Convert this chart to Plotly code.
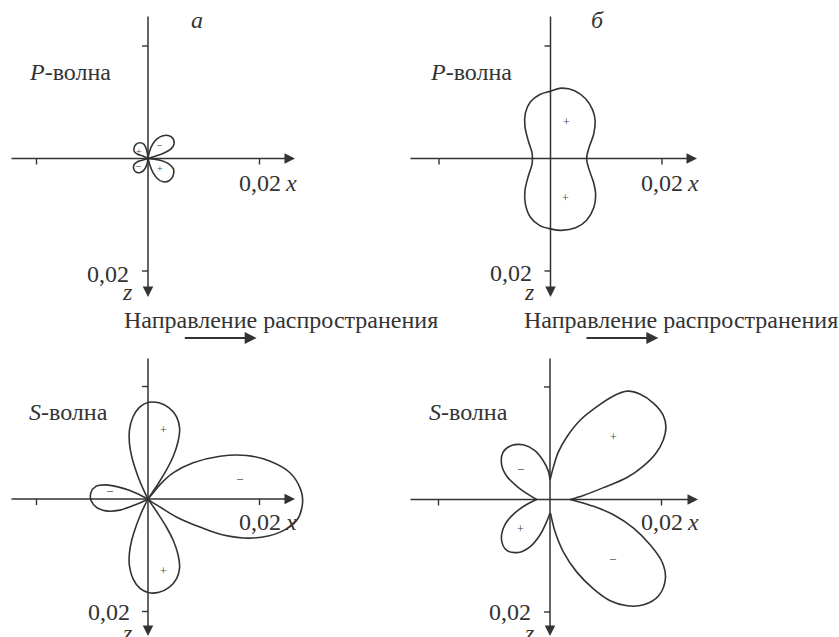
import numpy as np
import plotly.graph_objects as go

W, H = 839, 637
MILLI = 1e-3          # all outline coordinates below are in units of 1e-3
TICK = 0.02
TICK_LABEL = "0,02"

FONT = "'Liberation Serif', 'Times New Roman', serif"
INK = "#333333"
SIGN_INK = "#444444"

# ---------------- (а) P-wave: four small lobes ----------------
ap_ur_x = [0, 0.27, 0.81, 1.62, 2.70, 3.78, 4.50, 4.68, 4.14, 2.88, 1.44, 0.01]
ap_ur_z = [0, -1.26, -2.52, -3.51, -4.05, -4.05, -3.51, -2.61, -1.71, -0.99, -0.45, 0]
ap_lr_x = [0, 0.36, 0.90, 1.71, 2.70, 3.78, 4.50, 4.59, 3.78, 2.34, 0.01]
ap_lr_z = [0, 1.26, 2.52, 3.60, 4.14, 3.96, 3.06, 1.89, 0.99, 0.36, 0]
ap_ul_x = [0, -0.90, -1.80, -2.43, -2.52, -2.16, -1.44, -0.72, -0.27, 0.01]
ap_ul_z = [0, -0.45, -0.72, -1.17, -1.80, -2.52, -2.79, -2.52, -1.62, 0]
ap_ll_x = [0, -0.90, -1.80, -2.43, -2.61, -2.25, -1.53, -0.81, -0.27, 0.01]
ap_ll_z = [0, 0.27, 0.54, 0.99, 1.62, 2.34, 2.52, 2.16, 1.26, 0]
ap_sign_x = [1.98, 2.16, -1.57, -1.67]
ap_sign_z = [-2.52, 1.80, -1.31, 1.26]
ap_sign_t = ["–", "+", "+", "–"]

# ---------------- (б) P-wave: one closed outline ----------------
bp_x = [0, 1.98, 4.32, 6.30, 7.56, 8.01, 7.74, 6.93, 6.48, 6.93, 7.74, 8.10, 7.74,
        6.48, 4.50, 1.98, 0, -1.98, -3.60, -4.50, -4.59, -3.96, -3.33, -3.24, -3.33,
        -3.96, -4.59, -4.50, -3.60, -1.98, 0]
bp_z = [-11.97, -12.51, -12.06, -10.62, -8.64, -6.66, -4.32, -1.98, 0, 1.98, 4.32,
        6.48, 8.82, 10.98, 12.33, 12.78, 12.51, 11.88, 10.44, 8.10, 5.76, 3.06, 1.08,
        0, -1.08, -3.06, -5.76, -8.10, -10.08, -11.34, -11.97]
bp_sign_x = [2.83, 2.70]
bp_sign_z = [-6.43, 7.07]
bp_sign_t = ["+", "+"]

# ---------------- (а) S-wave: four lobes through the origin ----------------
as_top_x = [0, -0.63, -1.35, -2.16, -2.88, -3.33, -3.33, -2.70, -1.44, 0.18, 1.98,
            3.78, 5.13, 5.67, 5.40, 4.59, 3.24, 1.80, 0.72, 0.01]
as_top_z = [0, -1.26, -2.88, -5.04, -7.38, -9.90, -12.24, -14.58, -16.38, -17.19,
            -17.10, -16.20, -14.58, -12.60, -10.26, -7.74, -5.04, -2.70, -1.08, 0]
as_bot_x = [0, -0.63, -1.35, -2.16, -2.88, -3.33, -3.33, -2.70, -1.44, 0.18, 1.98,
            3.78, 5.13, 5.67, 5.40, 4.59, 3.24, 1.80, 0.72, 0.01]
as_bot_z = [0, 1.22, 2.79, 4.89, 7.16, 9.60, 11.87, 14.14, 15.89, 16.67, 16.59,
            15.71, 14.14, 12.22, 9.95, 7.51, 4.89, 2.62, 1.05, 0]
as_left_x = [0, -1.44, -3.24, -5.40, -7.56, -9.36, -10.26, -10.17, -9.18, -7.20,
             -5.04, -2.88, -1.08, 0.01]
as_left_z = [0, -0.72, -1.53, -2.16, -2.52, -2.25, -1.08, 0.36, 1.53, 2.16, 1.98,
             1.26, 0.54, 0]
as_right_x = [0, 0.90, 2.11, 4.50, 8.10, 12.91, 17.69, 21.91, 25.51, 27.41, 27.72,
              26.69, 23.71, 18.90, 13.50, 9.31, 5.09, 2.11, 0.72, 0.01]
as_right_z = [0, -1.08, -2.52, -4.63, -6.43, -7.61, -7.74, -6.71, -4.63, -1.62, 0.72,
              3.78, 5.89, 6.93, 6.39, 4.99, 3.19, 1.39, 0.54, 0]
as_sign_x = [2.83, 2.70, -6.84, 16.56]
as_sign_z = [-12.24, 12.78, -1.62, -3.73]
as_sign_t = ["+", "+", "–", "–"]

# ---------------- (б) S-wave: four lobes meeting on the axes ----------------
bs_ur_x = [0, 0.59, 1.49, 3.01, 5.40, 8.41, 11.39, 13.86, 16.20, 18.59, 20.29, 20.79,
           20.29, 18.90, 16.79, 13.81, 9.59, 5.99, 3.60]
bs_ur_z = [-3.42, -5.71, -8.41, -11.11, -14.09, -16.51, -18.41, -19.26, -18.72,
           -17.10, -14.99, -12.91, -10.49, -8.10, -5.99, -3.91, -2.11, -0.72, 0]
bs_lr_x = [0.09, 0.90, 2.39, 4.81, 7.79, 10.80, 13.86, 16.79, 19.49, 20.70, 20.11,
           18.00, 14.99, 11.39, 7.79, 4.81, 3.60]
bs_lr_z = [2.43, 5.71, 9.31, 12.91, 15.89, 18.00, 18.90, 18.72, 17.10, 14.09, 11.11,
           8.10, 5.09, 2.70, 1.21, 0.31, 0]
bs_ul_x = [0, -0.31, -1.21, -2.70, -4.81, -6.89, -8.41, -8.69, -7.79, -5.99, -3.91, -2.39]
bs_ul_z = [-3.60, -5.09, -6.89, -8.69, -9.72, -9.59, -8.41, -6.30, -4.19, -2.39, -0.90, 0]
bs_ll_x = [0, -0.59, -1.80, -3.60, -5.71, -7.79, -8.69, -8.10, -6.30, -4.19, -2.39]
bs_ll_z = [2.39, 3.91, 6.30, 8.41, 9.41, 9.00, 7.20, 4.50, 2.39, 0.90, 0]
bs_sign_x = [11.34, 11.29, -5.17, -5.35]
bs_sign_z = [-11.16, 10.35, -5.58, 5.22]
bs_sign_t = ["+", "–", "–", "+"]

# ---------------- panel geometry (pixels) ----------------
SX = 111.5 / TICK   # px per unit along x
SZ = 112.5 / TICK   # px per unit along z (downwards)

PANELS = [
    dict(ox=148.0, oy=158.5, box=(0, 0, 420, 318), h=(10, 295), v=(15, 297),
         xl_dy=24.5, zl_dy=2.5, zl_dx=17.0,
         curves=[(ap_ur_x, ap_ur_z), (ap_lr_x, ap_lr_z), (ap_ul_x, ap_ul_z), (ap_ll_x, ap_ll_z)],
         signs=(ap_sign_x, ap_sign_z, ap_sign_t), sign_size=10),
    dict(ox=550.5, oy=158.5, box=(419, 0, 839, 318), h=(409, 697), v=(15, 297),
         xl_dy=24.5, zl_dy=2.0, zl_dx=17.0,
         curves=[(bp_x, bp_z)],
         signs=(bp_sign_x, bp_sign_z, bp_sign_t), sign_size=12),
    dict(ox=148.0, oy=499.0, box=(0, 318, 420, 637), h=(10, 295), v=(357, 636),
         xl_dy=22.7, zl_dy=0.0, zl_dx=16.0,
         curves=[(as_top_x, as_top_z), (as_bot_x, as_bot_z), (as_left_x, as_left_z),
                 (as_right_x, as_right_z)],
         signs=(as_sign_x, as_sign_z, as_sign_t), sign_size=12),
    dict(ox=550.0, oy=499.5, box=(419, 318, 839, 637), h=(409, 698), v=(357, 636),
         xl_dy=22.2, zl_dy=0.0, zl_dx=16.7,
         curves=[(bs_ur_x, bs_ur_z), (bs_lr_x, bs_lr_z), (bs_ul_x, bs_ul_z), (bs_ll_x, bs_ll_z)],
         signs=(bs_sign_x, bs_sign_z, bs_sign_t), sign_size=12),
]

fig = go.Figure()
axes = {}
annotations = []
shapes = []
TEXT_SIZE = 24
LABEL_FONT = dict(family=FONT, size=TEXT_SIZE, color=INK)

for i, p in enumerate(PANELS, start=1):
    s = "" if i == 1 else str(i)
    xr, yr = "x" + s, "y" + s
    bx0, by0, bx1, by1 = p["box"]
    ox, oy = p["ox"], p["oy"]
    axes["xaxis" + s] = dict(domain=[bx0 / W, bx1 / W],
                             range=[(bx0 - ox) / SX, (bx1 - ox) / SX],
                             visible=False, fixedrange=True, anchor=yr)
    axes["yaxis" + s] = dict(domain=[1 - by1 / H, 1 - by0 / H],
                             range=[(by1 - oy) / SZ, (by0 - oy) / SZ],
                             visible=False, fixedrange=True, anchor=xr)

    # pattern outlines
    for cx, cz in p["curves"]:
        fig.add_trace(go.Scatter(
            x=np.array(cx) * MILLI, y=np.array(cz) * MILLI, mode="lines",
            line=dict(color=INK, width=1.6, shape="spline", smoothing=1.0),
            xaxis=xr, yaxis=yr, hoverinfo="skip", showlegend=False))

    # polarity marks
    sx_, sz_, st_ = p["signs"]
    for vx, vz, t in zip(sx_, sz_, st_):
        annotations.append(dict(x=vx * MILLI, y=vz * MILLI, xref=xr, yref=yr, text=t,
                                showarrow=False, xanchor="center", yanchor="middle",
                                font=dict(family=FONT, size=p["sign_size"], color=SIGN_INK)))

    # x axis and z axis with arrow heads
    h0, h1 = p["h"]
    v0, v1 = p["v"]
    annotations.append(dict(x=(h1 - ox) / SX, y=0, ax=(h0 - ox) / SX, ay=0,
                            xref=xr, yref=yr, axref=xr, ayref=yr, text="",
                            showarrow=True, arrowhead=2, arrowsize=1.4, arrowwidth=1.5,
                            arrowcolor=INK, standoff=0))
    annotations.append(dict(x=0, y=(v1 - oy) / SZ, ax=0, ay=(v0 - oy) / SZ,
                            xref=xr, yref=yr, axref=xr, ayref=yr, text="",
                            showarrow=True, arrowhead=2, arrowsize=1.4, arrowwidth=1.5,
                            arrowcolor=INK, standoff=0))

    # tick marks at ±0.02
    for t in (-TICK, TICK):
        shapes.append(dict(type="line", xref=xr, yref=yr, x0=t, x1=t, y0=0, y1=6 / SZ,
                           line=dict(color=INK, width=1.4)))
        shapes.append(dict(type="line", xref=xr, yref=yr, x0=0, x1=-6 / SX, y0=t, y1=t,
                           line=dict(color=INK, width=1.4)))

    # tick labels and axis names
    annotations.append(dict(x=TICK, y=0, xref=xr, yref=yr, text=TICK_LABEL, showarrow=False,
                            xanchor="center", yanchor="middle", yshift=-p["xl_dy"],
                            font=LABEL_FONT))
    annotations.append(dict(x=TICK, y=0, xref=xr, yref=yr, text="<i>x</i>", showarrow=False,
                            xanchor="center", yanchor="middle", xshift=31,
                            yshift=-p["xl_dy"], font=LABEL_FONT))
    annotations.append(dict(x=0, y=TICK, xref=xr, yref=yr, text=TICK_LABEL, showarrow=False,
                            xanchor="right", yanchor="middle", xshift=-p["zl_dx"],
                            yshift=-p["zl_dy"], font=LABEL_FONT))
    annotations.append(dict(x=0, y=TICK, xref=xr, yref=yr, text="<i>z</i>", showarrow=False,
                            xanchor="center", yanchor="middle", xshift=-21, yshift=-21,
                            font=LABEL_FONT))


def paper_text(px, py, text, anchor="left", size=TEXT_SIZE):
    annotations.append(dict(x=px / W, y=1 - py / H, xref="paper", yref="paper", text=text,
                            showarrow=False, xanchor=anchor, yanchor="middle",
                            font=dict(family=FONT, size=size, color=INK)))


paper_text(196.7, 19.5, "<i>а</i>", anchor="center")
paper_text(597.5, 19.5, "<i>б</i>", anchor="center")
paper_text(26.7, 71.5, "<i>P</i>-волна")
paper_text(428.3, 71.5, "<i>P</i>-волна")
paper_text(26.7, 411.5, "<i>S</i>-волна")
paper_text(427.3, 411.5, "<i>S</i>-волна")
paper_text(121.5, 319.5, "Направление распространения")
paper_text(521.7, 319.5, "Направление распространения")

# propagation direction arrows
for tail, head in ((183.3, 256.7), (585.0, 658.3)):
    annotations.append(dict(x=head / W, y=1 - 338.0 / H, xref="paper", yref="paper",
                            ax=tail - head, ay=0, text="", showarrow=True, arrowhead=2,
                            arrowsize=1.2, arrowwidth=2.0, arrowcolor=INK, standoff=0))

fig.update_layout(
    width=W, height=H, autosize=False,
    margin=dict(l=0, r=0, t=0, b=0),
    paper_bgcolor="white", plot_bgcolor="rgba(0,0,0,0)",
    showlegend=False,
    annotations=annotations, shapes=shapes,
    **axes,
)

fig.write_html("out.html")
